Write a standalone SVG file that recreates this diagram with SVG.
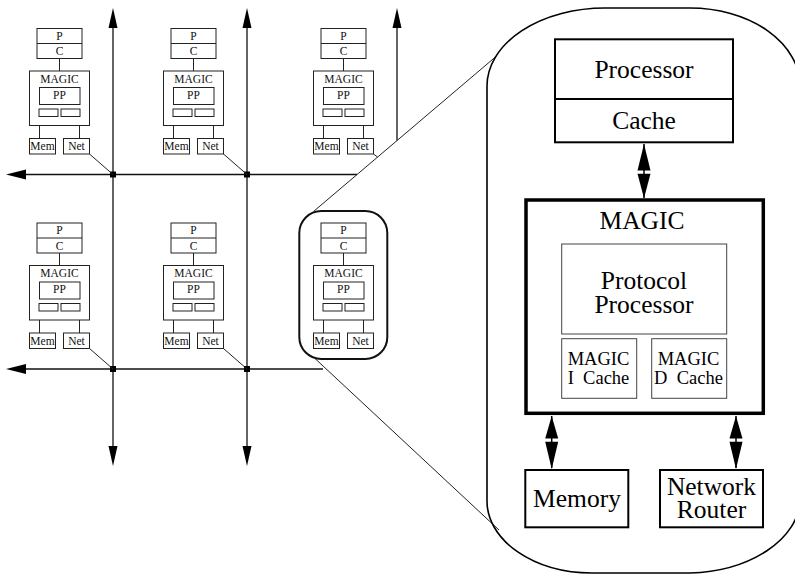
<svg xmlns="http://www.w3.org/2000/svg" width="795" height="575" viewBox="0 0 795 575">
  <style>
    .box { fill: #fff; stroke: #222; stroke-width: 1; }
    .wire { fill: none; stroke: #222; stroke-width: 1; }
    .grid { fill: none; stroke: #111; stroke-width: 1.3; }
    .head { fill: #000; stroke: none; }
    .st { font-family: "Liberation Serif", "Times New Roman", serif; font-size: 11.5px; fill: #111; text-anchor: middle; }
    .big { fill: #fff; stroke: #000; stroke-width: 2; }
    .thin { fill: #fff; stroke: #444; stroke-width: 1; }
    .lt { font-family: "Liberation Serif", "Times New Roman", serif; font-size: 25.5px; fill: #000; text-anchor: middle; }
    .mt { font-family: "Liberation Serif", "Times New Roman", serif; font-size: 18.5px; fill: #000; text-anchor: middle; white-space: pre; }
  </style>

  <!-- interconnect grid, node links and magnifier lines -->
  <g id="connectors">
    <line class="grid" x1="113" y1="20" x2="113" y2="454"/>
    <line class="grid" x1="247" y1="20" x2="247" y2="454"/>
    <line class="grid" x1="397" y1="20" x2="397" y2="140.5"/>
    <line class="grid" x1="18" y1="174.5" x2="357" y2="174.5"/>
    <line class="grid" x1="18" y1="369" x2="323" y2="369"/>
    <polygon class="head" points="113,8 108.5,28 117.5,28"/>
    <polygon class="head" points="113,466 108.5,446 117.5,446"/>
    <polygon class="head" points="247,8 242.5,28 251.5,28"/>
    <polygon class="head" points="247,466 242.5,446 251.5,446"/>
    <polygon class="head" points="397,8 392.5,28 401.5,28"/>
    <polygon class="head" points="6,174.5 26,169.5 26,179.5"/>
    <polygon class="head" points="6,369 26,364 26,374"/>
    <rect class="head" x="110" y="171.5" width="6" height="6"/>
    <rect class="head" x="244" y="171.5" width="6" height="6"/>
    <rect class="head" x="110" y="366" width="6" height="6"/>
    <rect class="head" x="244" y="366" width="6" height="6"/>
    <line class="wire" x1="89.5" y1="154" x2="113" y2="174.5"/>
    <line class="wire" x1="223.5" y1="154" x2="247" y2="174.5"/>
    <line class="wire" x1="373.5" y1="154" x2="377.5" y2="157"/>
    <line class="wire" x1="89.5" y1="348.5" x2="113" y2="369"/>
    <line class="wire" x1="223.5" y1="348.5" x2="247" y2="369"/>
    <line class="wire" x1="313.5" y1="211.5" x2="496" y2="56.5"/>
    <line class="wire" x1="315" y1="358.5" x2="499" y2="530"/>
  </g>

  <g id="node-1-1" transform="translate(29.5,71)">
    <rect class="box" x="7.5" y="-42.5" width="45" height="30"/>
    <line class="wire" x1="7.5" y1="-27.5" x2="52.5" y2="-27.5"/>
    <line class="wire" x1="30" y1="-12.5" x2="30" y2="0"/>
    <rect class="box" x="0" y="0" width="60" height="54.5"/>
    <rect class="box" x="10" y="16.5" width="40.5" height="17"/>
    <rect class="box" x="9.5" y="38" width="19" height="7.5"/>
    <rect class="box" x="31.5" y="38" width="19" height="7.5"/>
    <line class="wire" x1="10" y1="54.5" x2="10" y2="67.5"/>
    <line class="wire" x1="50" y1="54.5" x2="50" y2="67.5"/>
    <rect class="box" x="0" y="67.5" width="26" height="15.5"/>
    <rect class="box" x="34" y="67.5" width="26" height="15.5"/>
    <text class="st" x="30" y="-31.3">P</text>
    <text class="st" x="30" y="-16">C</text>
    <text class="st" x="30" y="11.7">MAGIC</text>
    <text class="st" x="30" y="27.5">PP</text>
    <text class="st" x="13" y="79">Mem</text>
    <text class="st" x="47" y="79">Net</text>
  </g>

  <g id="node-1-2" transform="translate(163.5,71)">
    <rect class="box" x="7.5" y="-42.5" width="45" height="30"/>
    <line class="wire" x1="7.5" y1="-27.5" x2="52.5" y2="-27.5"/>
    <line class="wire" x1="30" y1="-12.5" x2="30" y2="0"/>
    <rect class="box" x="0" y="0" width="60" height="54.5"/>
    <rect class="box" x="10" y="16.5" width="40.5" height="17"/>
    <rect class="box" x="9.5" y="38" width="19" height="7.5"/>
    <rect class="box" x="31.5" y="38" width="19" height="7.5"/>
    <line class="wire" x1="10" y1="54.5" x2="10" y2="67.5"/>
    <line class="wire" x1="50" y1="54.5" x2="50" y2="67.5"/>
    <rect class="box" x="0" y="67.5" width="26" height="15.5"/>
    <rect class="box" x="34" y="67.5" width="26" height="15.5"/>
    <text class="st" x="30" y="-31.3">P</text>
    <text class="st" x="30" y="-16">C</text>
    <text class="st" x="30" y="11.7">MAGIC</text>
    <text class="st" x="30" y="27.5">PP</text>
    <text class="st" x="13" y="79">Mem</text>
    <text class="st" x="47" y="79">Net</text>
  </g>

  <g id="node-1-3" transform="translate(313.5,71)">
    <rect class="box" x="7.5" y="-42.5" width="45" height="30"/>
    <line class="wire" x1="7.5" y1="-27.5" x2="52.5" y2="-27.5"/>
    <line class="wire" x1="30" y1="-12.5" x2="30" y2="0"/>
    <rect class="box" x="0" y="0" width="60" height="54.5"/>
    <rect class="box" x="10" y="16.5" width="40.5" height="17"/>
    <rect class="box" x="9.5" y="38" width="19" height="7.5"/>
    <rect class="box" x="31.5" y="38" width="19" height="7.5"/>
    <line class="wire" x1="10" y1="54.5" x2="10" y2="67.5"/>
    <line class="wire" x1="50" y1="54.5" x2="50" y2="67.5"/>
    <rect class="box" x="0" y="67.5" width="26" height="15.5"/>
    <rect class="box" x="34" y="67.5" width="26" height="15.5"/>
    <text class="st" x="30" y="-31.3">P</text>
    <text class="st" x="30" y="-16">C</text>
    <text class="st" x="30" y="11.7">MAGIC</text>
    <text class="st" x="30" y="27.5">PP</text>
    <text class="st" x="13" y="79">Mem</text>
    <text class="st" x="47" y="79">Net</text>
  </g>

  <g id="node-2-1" transform="translate(29.5,265.5)">
    <rect class="box" x="7.5" y="-42.5" width="45" height="30"/>
    <line class="wire" x1="7.5" y1="-27.5" x2="52.5" y2="-27.5"/>
    <line class="wire" x1="30" y1="-12.5" x2="30" y2="0"/>
    <rect class="box" x="0" y="0" width="60" height="54.5"/>
    <rect class="box" x="10" y="16.5" width="40.5" height="17"/>
    <rect class="box" x="9.5" y="38" width="19" height="7.5"/>
    <rect class="box" x="31.5" y="38" width="19" height="7.5"/>
    <line class="wire" x1="10" y1="54.5" x2="10" y2="67.5"/>
    <line class="wire" x1="50" y1="54.5" x2="50" y2="67.5"/>
    <rect class="box" x="0" y="67.5" width="26" height="15.5"/>
    <rect class="box" x="34" y="67.5" width="26" height="15.5"/>
    <text class="st" x="30" y="-31.3">P</text>
    <text class="st" x="30" y="-16">C</text>
    <text class="st" x="30" y="11.7">MAGIC</text>
    <text class="st" x="30" y="27.5">PP</text>
    <text class="st" x="13" y="79">Mem</text>
    <text class="st" x="47" y="79">Net</text>
  </g>

  <g id="node-2-2" transform="translate(163.5,265.5)">
    <rect class="box" x="7.5" y="-42.5" width="45" height="30"/>
    <line class="wire" x1="7.5" y1="-27.5" x2="52.5" y2="-27.5"/>
    <line class="wire" x1="30" y1="-12.5" x2="30" y2="0"/>
    <rect class="box" x="0" y="0" width="60" height="54.5"/>
    <rect class="box" x="10" y="16.5" width="40.5" height="17"/>
    <rect class="box" x="9.5" y="38" width="19" height="7.5"/>
    <rect class="box" x="31.5" y="38" width="19" height="7.5"/>
    <line class="wire" x1="10" y1="54.5" x2="10" y2="67.5"/>
    <line class="wire" x1="50" y1="54.5" x2="50" y2="67.5"/>
    <rect class="box" x="0" y="67.5" width="26" height="15.5"/>
    <rect class="box" x="34" y="67.5" width="26" height="15.5"/>
    <text class="st" x="30" y="-31.3">P</text>
    <text class="st" x="30" y="-16">C</text>
    <text class="st" x="30" y="11.7">MAGIC</text>
    <text class="st" x="30" y="27.5">PP</text>
    <text class="st" x="13" y="79">Mem</text>
    <text class="st" x="47" y="79">Net</text>
  </g>

  <!-- highlighted node, shown enlarged on the right -->
  <g id="node-2-3">
    <rect x="299.3" y="211" width="88" height="148" rx="22" ry="22" fill="none" stroke="#111" stroke-width="2"/>
    <g transform="translate(313.5,265.5)">
      <rect class="box" x="7.5" y="-42.5" width="45" height="30"/>
      <line class="wire" x1="7.5" y1="-27.5" x2="52.5" y2="-27.5"/>
      <line class="wire" x1="30" y1="-12.5" x2="30" y2="0"/>
      <rect class="box" x="0" y="0" width="60" height="54.5"/>
      <rect class="box" x="10" y="16.5" width="40.5" height="17"/>
      <rect class="box" x="9.5" y="38" width="19" height="7.5"/>
      <rect class="box" x="31.5" y="38" width="19" height="7.5"/>
      <line class="wire" x1="10" y1="54.5" x2="10" y2="67.5"/>
      <line class="wire" x1="50" y1="54.5" x2="50" y2="67.5"/>
      <rect class="box" x="0" y="67.5" width="26" height="15.5"/>
      <rect class="box" x="34" y="67.5" width="26" height="15.5"/>
      <text class="st" x="30" y="-31.3">P</text>
      <text class="st" x="30" y="-16">C</text>
      <text class="st" x="30" y="11.7">MAGIC</text>
      <text class="st" x="30" y="27.5">PP</text>
      <text class="st" x="13" y="79">Mem</text>
      <text class="st" x="47" y="79">Net</text>
    </g>
  </g>

  <!-- enlarged node detail -->
  <g id="detail">
    <path d="M487,86 A118,78 0 0 1 605,8 L690,8 A110,78 0 0 1 800,86 L800,501 A115,75 0 0 1 690,573 L592,573 A105,72 0 0 1 487,501 Z" fill="none" stroke="#000" stroke-width="1.6"/>
  </g>

  <g id="processor-cache">
    <rect class="big" x="555" y="39.3" width="178" height="103"/>
    <line x1="555" y1="99" x2="733" y2="99" stroke="#000" stroke-width="2"/>
    <text class="lt" x="644" y="77.5">Processor</text>
    <text class="lt" x="644" y="129.3">Cache</text>
  </g>

  <g id="magic">
    <rect x="526" y="200" width="237.3" height="213.3" fill="#fff" stroke="#000" stroke-width="3.5"/>
    <text class="lt" x="642" y="229.3">MAGIC</text>
  </g>

  <g id="protocol-processor">
    <rect class="thin" x="561.7" y="244" width="165" height="90"/>
    <text class="lt" x="644" y="289.3">Protocol</text>
    <text class="lt" x="644" y="312.7">Processor</text>
  </g>

  <g id="magic-icache">
    <rect class="thin" x="561.7" y="338.7" width="75" height="59.6"/>
    <text class="mt" x="598.5" y="365">MAGIC</text>
    <text class="mt" x="598.5" y="384.3">I  Cache</text>
  </g>

  <g id="magic-dcache">
    <rect class="thin" x="651.7" y="338.7" width="75" height="59.6"/>
    <text class="mt" x="688.5" y="365">MAGIC</text>
    <text class="mt" x="688.5" y="384.3">D  Cache</text>
  </g>

  <g id="memory">
    <rect class="big" x="525.3" y="470" width="103" height="57.3"/>
    <text class="lt" x="577" y="506.7">Memory</text>
  </g>

  <g id="network-router">
    <rect class="big" x="660" y="470" width="103" height="57.3"/>
    <text class="lt" x="711.5" y="495">Network</text>
    <text class="lt" x="711.5" y="518.3">Router</text>
  </g>

  <!-- bidirectional links inside the node -->
  <g id="detail-links">
    <line x1="644" y1="144" x2="644" y2="198" stroke="#000" stroke-width="1.5"/>
    <polygon class="head" points="644,144 637.5,170.5 650.5,170.5"/>
    <polygon class="head" points="644,198.3 637.5,173.8 650.5,173.8"/>
    <line x1="551.7" y1="416" x2="551.7" y2="468" stroke="#000" stroke-width="1.5"/>
    <polygon class="head" points="551.7,416 545.2,438.5 558.2,438.5"/>
    <polygon class="head" points="551.7,469 545.2,441.8 558.2,441.8"/>
    <line x1="736" y1="416" x2="736" y2="468" stroke="#000" stroke-width="1.5"/>
    <polygon class="head" points="736,416 729.5,438.5 742.5,438.5"/>
    <polygon class="head" points="736,469 729.5,441.8 742.5,441.8"/>
  </g>
</svg>
